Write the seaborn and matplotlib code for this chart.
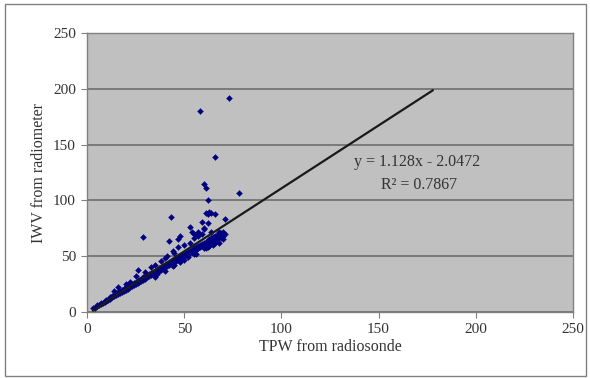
import matplotlib
matplotlib.use("Agg")
import matplotlib.pyplot as plt
import seaborn as sns
import pandas as pd
import numpy as np
from matplotlib.patches import Rectangle

# TPW from radiosonde (x) and IWV from radiometer (y)
tpw = [3, 4, 5, 5, 6, 7, 7, 8, 9, 9, 10, 10, 11, 12, 12, 13, 13, 14, 14, 15, 15, 16, 16, 17, 17,
       18, 18, 19, 19, 20, 20, 21, 21, 22, 22, 23, 23, 24, 24, 25, 25, 26, 26, 27, 27, 28, 28,
       29, 29, 30, 30, 31, 31, 32, 32, 33, 33, 34, 34, 35, 35, 36, 36, 37, 37, 38, 38, 39, 39,
       40, 40, 41, 41, 42, 42, 43, 43, 44, 44, 45, 45, 46, 46, 47, 47, 48, 48, 49, 49, 50, 50,
       51, 51, 52, 52, 53, 53, 54, 54, 55, 55, 56, 56, 57, 57, 58, 58, 59, 59, 60, 60, 61, 61,
       62, 62, 63, 63, 64, 64, 65, 65, 66, 66, 67, 67, 68, 68, 69, 69, 70, 70,
       14, 20, 25, 30, 35, 38, 40, 45, 47, 50, 53, 55, 57, 59,
       35, 40, 45, 50, 55, 60, 62, 65, 68, 70, 36, 44, 48, 52, 56, 61, 63, 66,
       58, 73, 66, 78, 60, 61, 62, 43, 29, 42, 53, 54, 48, 47, 59, 61, 62, 63, 64, 66, 60,
       71, 62, 55, 57, 60, 64, 68, 71, 26, 22, 16, 41, 44, 33]
iwv = [4, 4, 5, 6, 6, 7, 8, 8, 9, 10, 10, 11, 11, 12, 13, 13, 14, 14, 15, 15, 17, 16, 18, 17, 19,
       18, 20, 19, 21, 20, 22, 21, 23, 22, 24, 23, 25, 24, 26, 25, 27, 26, 28, 27, 29, 28, 30,
       29, 31, 30, 32, 31, 33, 32, 34, 33, 35, 34, 36, 35, 37, 36, 38, 37, 39, 38, 40, 39, 41,
       40, 42, 41, 43, 42, 44, 43, 45, 44, 46, 45, 47, 46, 48, 47, 49, 48, 50, 49, 51, 50, 52,
       51, 53, 52, 54, 53, 55, 54, 56, 55, 57, 56, 58, 57, 59, 58, 60, 59, 61, 60, 62, 61, 63,
       62, 64, 63, 65, 64, 66, 65, 67, 66, 68, 65, 69, 67, 70, 66, 71, 68, 72,
       19, 25, 32, 36, 42, 46, 48, 53, 58, 60, 62, 66, 68, 70,
       31, 37, 42, 47, 52, 57, 58, 60, 62, 65, 34, 41, 45, 49, 52, 57, 59, 62,
       180, 192, 139, 107, 115, 111, 100, 85, 67, 64, 76, 72, 68, 65, 81, 89, 88, 90, 89, 88, 74,
       83, 80, 70, 72, 75, 72, 72, 70, 38, 27, 22, 50, 55, 40]

# Linear fit shown on the chart
slope = 1.128
intercept = -2.0472
fit_range = [3, 178]
eq_text = "y = 1.128x - 2.0472"
r2_text = "R² = 0.7867"
ticks = [0, 50, 100, 150, 200, 250]

df = pd.DataFrame({"TPW": tpw, "IWV": iwv})

sns.set_theme(style="white")
plt.rcParams['font.family'] = ['Liberation Serif', 'DejaVu Serif']

fig = plt.figure(figsize=(5.9, 3.78), dpi=100)
ax = fig.add_axes([0.1475, 0.1746, 0.8235, 0.738])
ax.set_facecolor("#c0c0c0")

sns.scatterplot(data=df, x="TPW", y="IWV", ax=ax, marker="D", s=9,
                color="#000080", edgecolor="#000080", linewidth=0.3, zorder=3)

fx = np.array(fit_range, dtype=float)
sns.lineplot(x=fx, y=slope * fx + intercept, ax=ax, color="#1a1a1a", lw=1.6, zorder=4)

ax.set_xlim(0, 250)
ax.set_ylim(0, 250)
ax.set_xticks(ticks)
ax.set_yticks(ticks)
ax.yaxis.grid(True, color="#6e6e6e", lw=1.2)
ax.xaxis.grid(False)
ax.set_axisbelow(True)
for s in ax.spines.values():
    s.set_color("#808080")
    s.set_linewidth(1.0)
ax.tick_params(axis="both", which="both", direction="out", length=4, width=0.8,
               color="#808080", labelsize=11, labelcolor="#333333", pad=4)
ax.tick_params(bottom=True, left=True)
ax.set_xlabel("TPW from radiosonde", fontsize=11.5, color="#333333", labelpad=2)
ax.set_ylabel("IWV from radiometer", fontsize=11.5, color="#333333", labelpad=4)

ax.text(170, 134, eq_text, ha="center", va="center", fontsize=11.5, color="#333333")
ax.text(171, 114, r2_text, ha="center", va="center", fontsize=11.5, color="#333333")

fig.patches.append(Rectangle((0.008, 0.005), 0.985, 0.985, transform=fig.transFigure,
                             fill=False, edgecolor="#808080", lw=1.0))

fig.savefig("out.png", dpi=100)
